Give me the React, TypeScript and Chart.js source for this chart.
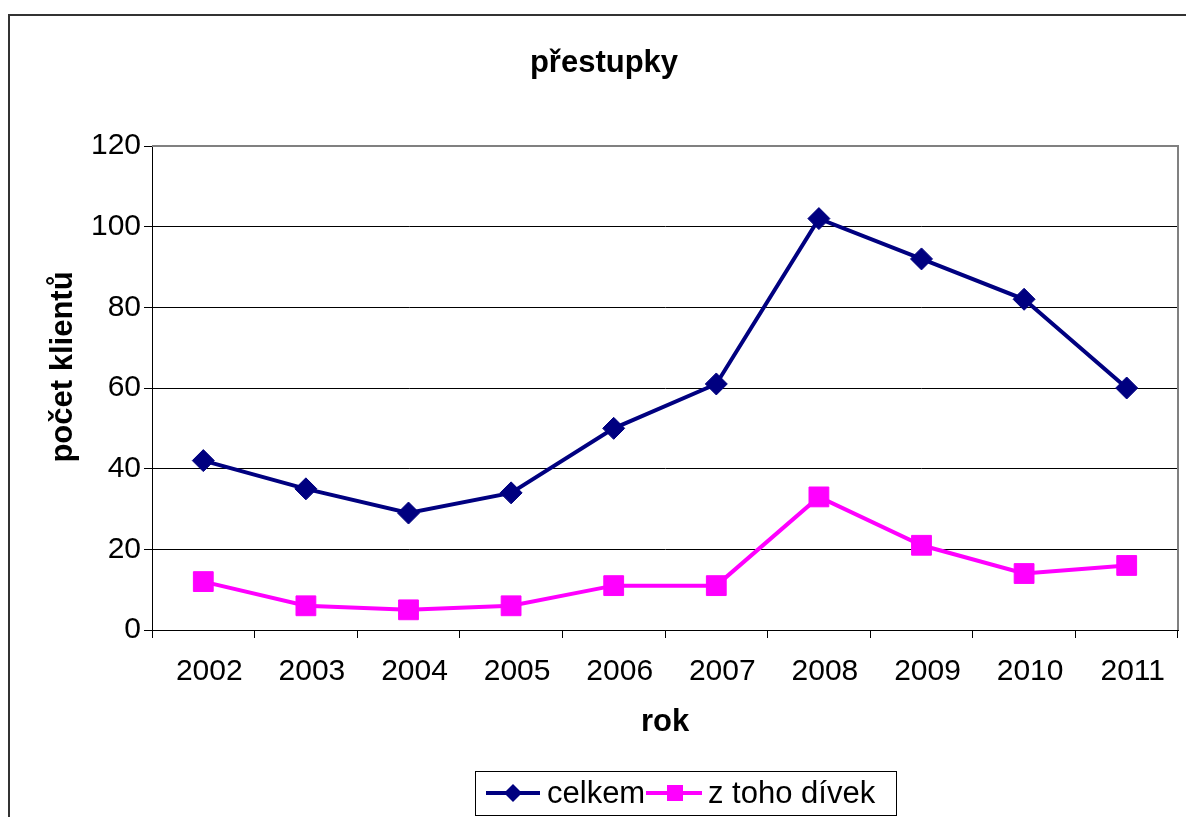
import React, { useEffect, useRef } from "react";
import { Chart, registerables } from "chart.js";

Chart.register(...registerables);

const years = ["2002", "2003", "2004", "2005", "2006", "2007", "2008", "2009", "2010", "2011"];
const celkem = [42, 35, 29, 34, 50, 61, 102, 92, 82, 60];
const zTohoDivek = [12, 6, 5, 6, 11, 11, 33, 21, 14, 16];
const seriesNames = ["celkem", "z toho dívek"];
const chartTitle = "přestupky";
const xTitle = "rok";
const yTitle = "počet klientů";
const yMin = 0;
const yMax = 120;
const yStep = 20;

const NAVY = "#000080";
const MAGENTA = "#FF00FF";
const FONT = "'Liberation Sans', Arial, sans-serif";

const W = 1186;
const H = 817;

const decorPlugin = {
  id: "decor",
  beforeDatasetsDraw(chart: any) {
    const { ctx, chartArea } = chart;
    ctx.save();
    ctx.strokeStyle = "#808080";
    ctx.lineWidth = 2;
    ctx.beginPath();
    ctx.moveTo(chartArea.left, chartArea.top);
    ctx.lineTo(chartArea.right, chartArea.top);
    ctx.lineTo(chartArea.right, chartArea.bottom);
    ctx.stroke();
    ctx.restore();
  },
  afterDraw(chart: any) {
    const { ctx, chartArea } = chart;
    ctx.save();
    ctx.fillStyle = "#333333";
    ctx.fillRect(8, 14, W - 8, 2);
    ctx.fillRect(8, 14, 2, H - 14);

    ctx.fillStyle = "#000";
    ctx.font = `bold 31px ${FONT}`;
    ctx.textAlign = "center";
    ctx.textBaseline = "alphabetic";
    ctx.fillText(chartTitle, 604, 72);

    ctx.fillText(xTitle, (chartArea.left + chartArea.right) / 2, 731);

    ctx.save();
    ctx.translate(72, 367);
    ctx.rotate(-Math.PI / 2);
    ctx.fillText(yTitle, 0, 0);
    ctx.restore();

    ctx.strokeStyle = "#000";
    ctx.lineWidth = 1;
    ctx.strokeRect(475.5, 771.5, 421, 44);
    const ly = 793;
    ctx.strokeStyle = NAVY;
    ctx.lineWidth = 4;
    ctx.beginPath();
    ctx.moveTo(486, ly);
    ctx.lineTo(540, ly);
    ctx.stroke();
    ctx.fillStyle = NAVY;
    ctx.beginPath();
    ctx.moveTo(513 - 9, ly);
    ctx.lineTo(513, ly - 9);
    ctx.lineTo(513 + 9, ly);
    ctx.lineTo(513, ly + 9);
    ctx.closePath();
    ctx.fill();
    ctx.fillStyle = "#000";
    ctx.font = `31px ${FONT}`;
    ctx.textAlign = "left";
    ctx.textBaseline = "middle";
    ctx.fillText(seriesNames[0], 547, ly + 1);
    ctx.strokeStyle = MAGENTA;
    ctx.lineWidth = 4;
    ctx.beginPath();
    ctx.moveTo(646, ly);
    ctx.lineTo(702, ly);
    ctx.stroke();
    ctx.fillStyle = MAGENTA;
    ctx.fillRect(675 - 8, ly - 8, 16, 16);
    ctx.fillStyle = "#000";
    ctx.fillText(seriesNames[1], 708, ly + 1);
    ctx.restore();
  },
};

export default function App() {
  const ref = useRef<HTMLCanvasElement | null>(null);

  useEffect(() => {
    if (!ref.current) return;
    const chart = new Chart(ref.current, {
      type: "line",
      data: {
        labels: years,
        datasets: [
          {
            label: seriesNames[0],
            data: celkem,
            borderColor: NAVY,
            backgroundColor: NAVY,
            borderWidth: 4,
            pointStyle: "rectRot",
            pointRadius: 11,
            pointBorderWidth: 1,
            pointBackgroundColor: NAVY,
            pointBorderColor: NAVY,
            tension: 0,
          },
          {
            label: seriesNames[1],
            data: zTohoDivek,
            borderColor: MAGENTA,
            backgroundColor: MAGENTA,
            borderWidth: 4,
            pointStyle: "rect",
            pointRadius: 14,
            pointBorderWidth: 1,
            pointBackgroundColor: MAGENTA,
            pointBorderColor: MAGENTA,
            tension: 0,
          },
        ],
      },
      options: {
        responsive: false,
        animation: false,
        devicePixelRatio: 1,
        layout: { autoPadding: false, padding: { top: 146, right: 8, left: 0, bottom: 0 } },
        plugins: {
          legend: { display: false },
          title: { display: false },
          tooltip: { enabled: false },
        },
        scales: {
          x: {
            type: "category",
            offset: true,
            afterFit(scale: any) {
              scale.height = H - 630;
              scale.paddingLeft = 0;
              scale.paddingRight = 0;
            },
            grid: {
              offset: true,
              drawOnChartArea: false,
              drawTicks: true,
              tickLength: 8,
              tickColor: "#000",
              color: "#000",
            },
            border: { display: true, color: "#000", width: 1 },
            ticks: {
              color: "#000",
              font: { family: FONT, size: 30 },
              padding: 16,
              labelOffset: 6,
              maxRotation: 0,
              autoSkip: false,
            },
          },
          y: {
            min: yMin,
            max: yMax,
            afterFit(scale: any) {
              scale.width = 152;
              scale.paddingTop = 0;
              scale.paddingBottom = 0;
            },
            grid: {
              color: (c: any) => (c.tick && c.tick.value === yMax ? "#808080" : "#000"),
              tickColor: "#000",
              tickLength: 8,
              lineWidth: 1,
            },
            border: { display: true, color: "#000", width: 1 },
            ticks: {
              stepSize: yStep,
              color: "#000",
              font: { family: FONT, size: 30 },
              padding: 3,
            },
          },
        },
      },
      plugins: [decorPlugin],
    } as any);
    return () => chart.destroy();
  }, []);

  return (
    <div style={{ position: "absolute", left: 0, top: 0, width: W, height: H, background: "#fff" }}>
      <canvas ref={ref} width={W} height={H} style={{ display: "block", width: W, height: H }} />
    </div>
  );
}
